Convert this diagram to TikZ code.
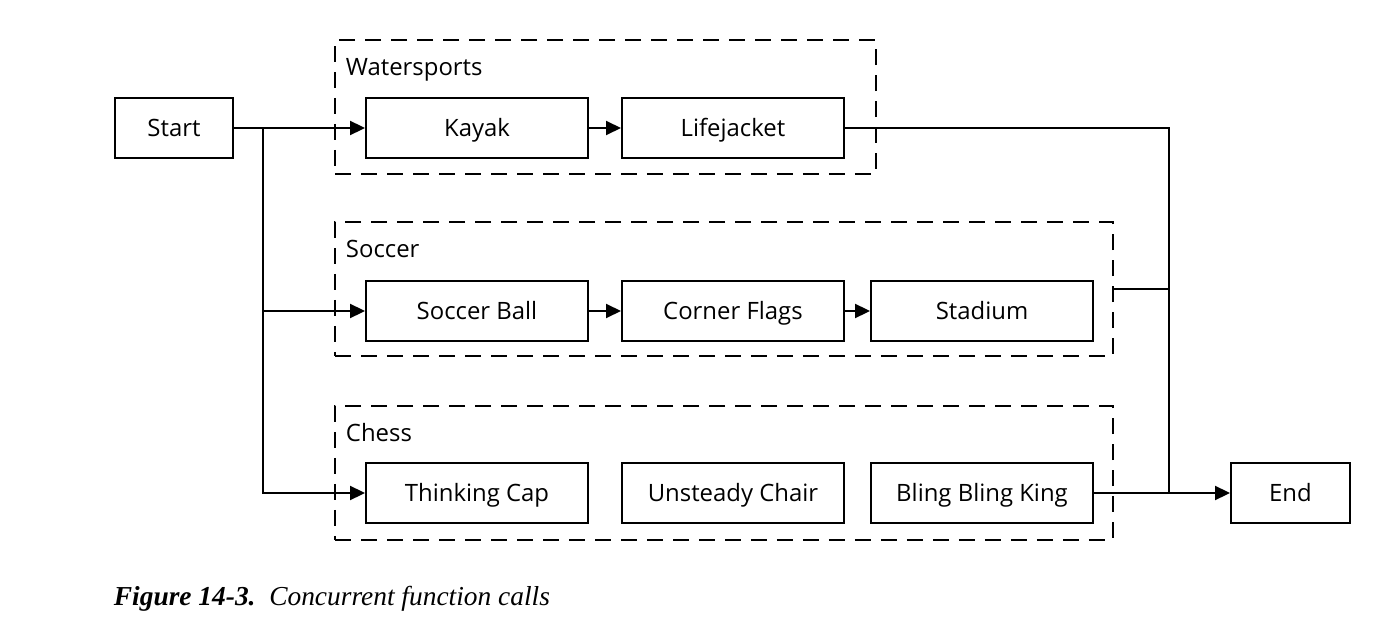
\documentclass[tikz,border=0pt]{standalone}
\usepackage{fontspec}
\newfontfamily\boxfont{Open Sans}
\newfontfamily\capfont{Liberation Serif}
\usetikzlibrary{arrows.meta}

\begin{document}
\begin{tikzpicture}[x=0.02cm, y=-0.02cm, node distance={51.2mm}, line width=1.1pt, >={Triangle[length=3mm,width=2.8mm]},
  main/.style = {draw, rectangle, minimum width=44.4mm, minimum height=12mm, inner sep=0pt, text height=0.95em, text depth=0pt, font=\boxfont\fontsize{13.6}{16}\selectfont},
  grp/.style = {draw, dash pattern=on 3.2mm off 2mm, line width=1.3pt, minimum height=26.8mm},
  lbl/.style = {anchor=base west, inner sep=0pt, font=\boxfont\fontsize{13.6}{16}\selectfont}]
\useasboundingbox (0,0) rectangle (1377,632);

% dashed groups
\node[grp, minimum width=108.2mm] (water) at (605.5,107) {};
\node[grp, minimum width=155.6mm] (soccer) at (724,289) {};
\node[grp, minimum width=155.6mm] (chess) at (724,473) {};
\node[lbl] (wlbl) at (345,75) {Watersports};
\node[lbl] (slbl) at (345,257) {Soccer};
\node[lbl] (clbl) at (345,441) {Chess};

\node[main, minimum width=23.6mm] (start) at (174,128) {Start};
\node[main] (kayak) at (477,128) {Kayak};
\node[main] (life) [right of=kayak] {Lifejacket};
\node[main] (ball) at (477,311) {Soccer Ball};
\node[main] (flags) [right of=ball] {Corner Flags};
\node[main] (stadium) at (982,311) {Stadium};
\node[main] (think) at (477,493) {Thinking Cap};
\node[main] (chair) [right of=think] {Unsteady Chair};
\node[main] (king) at (982,493) {Bling Bling King};
\node[main, minimum width=23.8mm] (end) at (1290.5,493) {End};

\coordinate (split) at (263,128);
\coordinate (merge) at (1169,128);

\draw[->] (start) -- (kayak);
\draw[->] (kayak) -- (life);
\draw[->] (ball) -- (flags);
\draw[->] (flags) -- (stadium);
\draw[->] (split) |- (think);
\draw[->] (split |- ball) -- (ball);
\draw (life) -- (merge) -- (merge |- end);
\draw (soccer) -- (soccer -| merge);
\draw[->] (king) -- (end);

\node[anchor=base west, inner sep=0pt, font=\capfont\fontsize{15.6}{18}\selectfont] (caption) at (113,605) {\textbf{\textit{Figure 14-3.}}\enspace\textit{Concurrent function calls}};
\end{tikzpicture}
\end{document}
